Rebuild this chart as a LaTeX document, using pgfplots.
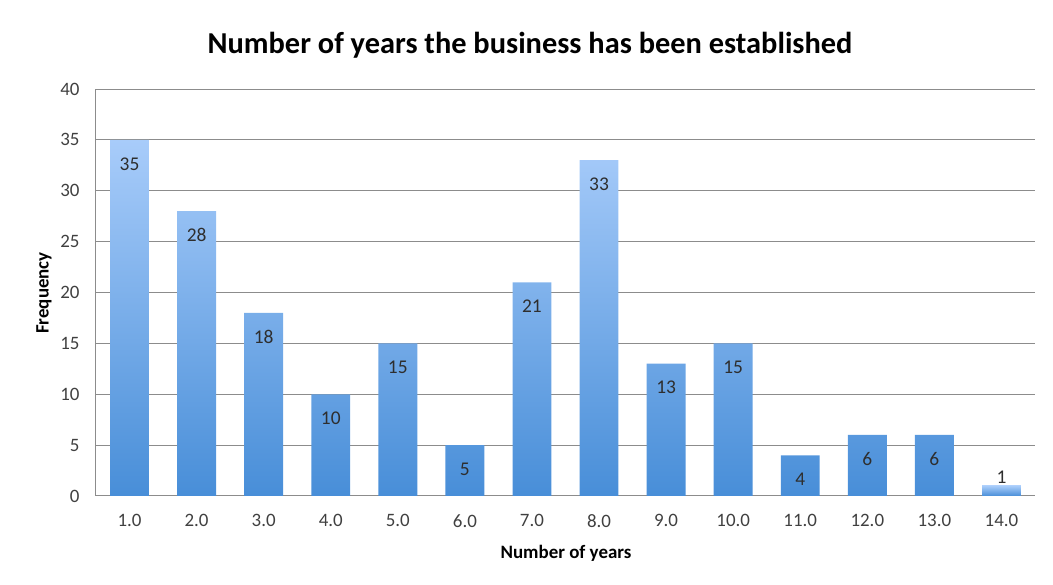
\documentclass[border=0pt]{standalone}
\usepackage{pgfplots}
\pgfplotsset{compat=1.18}
\usepackage{fontspec}
\setmainfont{Carlito}
\definecolor{bartop}{RGB}{168,204,250}
\definecolor{barbot}{RGB}{72,142,216}
\definecolor{gridc}{RGB}{140,140,140}
\definecolor{tickc}{RGB}{64,64,64}
\begin{document}
\begin{tikzpicture}
\useasboundingbox (-96bp,-89bp) rectangle (957bp,496bp);
\begin{axis}[
  at={(0,0)}, anchor=south west,
  scale only axis,
  width=939bp, height=407bp,
  xmin=0.5, xmax=14.5,
  ymin=0, ymax=40,
  ytick={0,5,...,40},
  xtick={1,...,14},
  xticklabels={1.0,2.0,3.0,4.0,5.0,6.0,7.0,8.0,9.0,10.0,11.0,12.0,13.0,14.0},
  /pgf/number format/assume math mode=true,
  ticklabel style={font=\fontsize{19}{22}\selectfont, text=tickc},
  yticklabel style={xshift=-13bp},
  xticklabel style={yshift=-15bp},
  major tick length=0pt,
  axis lines=left,
  axis line style={-, draw=gridc, line width=1bp},
  ymajorgrids,
  grid style={draw=gridc, line width=1bp},
  clip=false,
]
\addplot[ybar, bar width=0.58, bar shift=0pt, draw=none,
  top color=bartop, bottom color=barbot,
  nodes near coords,
  every node near coord/.append style={font=\fontsize{19.5}{22}\selectfont, text=black!82, anchor=center, yshift=-24bp},
  point meta=explicit symbolic]
  table[meta=l] {
x y l
1 35 35
2 28 28
3 18 18
4 10 10
5 15 15
6 5 5
7 21 21
8 33 33
9 13 13
10 15 15
11 4 4
12 6 6
13 6 6
};
\addplot[ybar, bar width=0.58, bar shift=0pt, draw=none,
  top color=bartop, bottom color=barbot,
  nodes near coords,
  every node near coord/.append style={font=\fontsize{19.5}{22}\selectfont, text=black!82, anchor=center, yshift=9bp},
  point meta=explicit symbolic]
  table[meta=l] {
x y l
14 1 1
};
\end{axis}
\node[font=\fontsize{30.5}{34}\selectfont\bfseries, text=black] at (434bp,451bp) {Number of years the business has been established};
\node[font=\fontsize{19}{22}\selectfont\bfseries, text=black] at (470bp,-57bp) {Number of years};
\node[font=\fontsize{19}{22}\selectfont\bfseries, text=black, rotate=90] at (-52bp,203bp) {Frequency};
\end{tikzpicture}
\end{document}
